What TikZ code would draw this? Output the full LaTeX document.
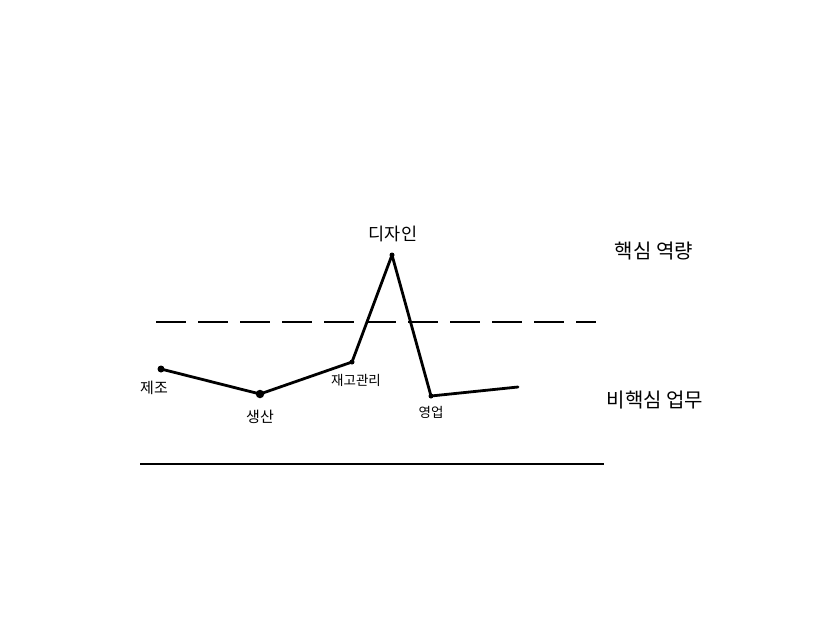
\documentclass[tikz,border=0pt]{standalone}
\usepackage{fontspec}
\newfontfamily\kr{Noto Sans CJK KR}
\begin{document}
\begin{tikzpicture}[x=1pt,y=-1pt,
  lbl/.style={font=\kr, inner sep=0pt, anchor=center},
  curve/.style={line width=2.8pt, line join=round, line cap=round},
  dotpt/.style={circle, fill=black, inner sep=0pt, minimum size=#1}]
\useasboundingbox[fill=white] (0,0) rectangle (827,621);
% points
\node[dotpt=7pt] (p1) at (161,369) {};
\node[dotpt=8.5pt] (p2) at (260,394) {};
\node[dotpt=5pt] (p3) at (352,362) {};
\node[dotpt=5pt] (p4) at (392,255) {};
\node[dotpt=5pt] (p5) at (431,396) {};
\coordinate (p6) at (518,387);
\draw[curve] (p1.center) -- (p2.center) -- (p3.center) -- (p4.center) -- (p5.center) -- (p6);
% reference lines
\coordinate (d1) at (156,322);
\coordinate (d2) at (596,322);
\draw[line width=2.2pt, dash pattern=on 30pt off 12pt] (d1) -- (d2);
\coordinate (s1) at (140,464);
\coordinate (s2) at (604,464);
\draw[line width=2.2pt] (s1) -- (s2);
% labels
\node[lbl, font=\kr\fontsize{15}{17}\selectfont] (t1) at (154,388) {제조};
\node[lbl, font=\kr\fontsize{15}{17}\selectfont] (t2) at (260,417) {생산};
\node[lbl, font=\kr\fontsize{13.5}{15}\selectfont] (t3) at (356,380) {재고관리};
\node[lbl, font=\kr\fontsize{17.5}{19}\selectfont] (t4) at (393,234) {디자인};
\node[lbl, font=\kr\fontsize{13.5}{15}\selectfont] (t5) at (431,412) {영업};
\node[lbl, font=\kr\fontsize{20}{22}\selectfont] (t6) at (654,251) {핵심 역량};
\node[lbl, font=\kr\fontsize{20}{22}\selectfont] (t7) at (655,400) {비핵심 업무};
\end{tikzpicture}
\end{document}
